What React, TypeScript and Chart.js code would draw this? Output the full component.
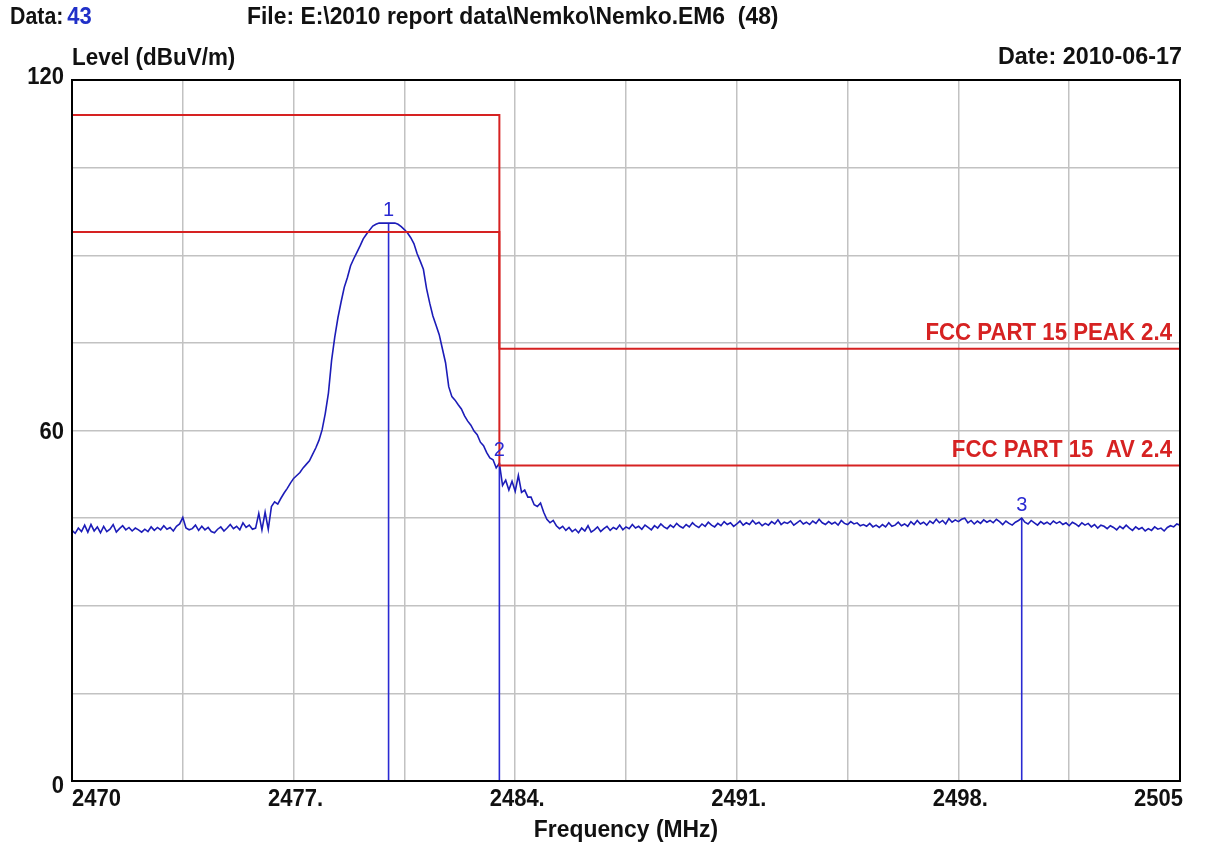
import { useEffect, useRef } from "react";
import { Chart, registerables } from "chart.js";

Chart.register(...registerables);

// Sweep settings of the trace
const FREQ_START = 2470;
const FREQ_STEP = 0.1;

// Measured level (dBuV/m), one value per 0.1 MHz from 2470.0 to 2505.0
const LEVELS = [
  // 2470.0
  42.9, 42.4, 43.3, 42.7, 43.8, 42.6, 43.9, 42.8, 43.5, 42.5,
  // 2471.0
  43.6, 42.7, 43.1, 43.9, 42.6, 43.2, 43.7, 43.0, 43.4, 42.8,
  // 2472.0
  43.3, 43.0, 42.6, 43.1, 42.7, 43.5, 42.9, 43.4, 43.0, 43.7,
  // 2473.0
  43.1, 43.4, 42.8, 43.6, 44.0, 45.1, 43.3, 43.0, 43.2, 43.8,
  // 2474.0
  42.9, 43.6, 43.0, 43.4, 42.7, 42.5, 43.1, 43.5, 42.8, 43.3,
  // 2475.0
  43.9, 43.2, 43.6, 43.0, 44.2, 43.4, 43.8, 43.1, 43.3, 45.8,
  // 2476.0
  43.0, 46.0, 43.1, 47.0, 47.8, 47.4, 48.4, 49.3, 50.1, 51.0,
  // 2477.0
  51.8, 52.3, 52.8, 53.6, 54.2, 54.8, 55.9, 57.0, 58.3, 60.1,
  // 2478.0
  62.9, 66.4, 72.0, 76.0, 79.3, 82.0, 84.5, 86.2, 88.2, 89.4,
  // 2479.0
  90.5, 91.6, 92.8, 93.6, 94.3, 95.0, 95.3, 95.5, 95.5, 95.5,
  // 2480.0
  95.5, 95.5, 95.5, 95.3, 94.9, 94.4, 93.8, 93.0, 92.0, 90.3,
  // 2481.0
  89.0, 87.6, 84.3, 81.8, 79.6, 78.0, 76.4, 74.0, 71.6, 67.5,
  // 2482.0
  65.8, 65.2, 64.4, 63.7, 62.5, 61.6, 60.9, 59.9, 59.3, 58.0,
  // 2483.0
  57.4, 56.2, 55.3, 55.0, 53.6, 54.4, 50.6, 51.5, 49.8, 51.3,
  // 2484.0
  49.6, 52.3, 49.4, 49.8, 48.6, 48.6, 47.3, 47.0, 47.6, 46.0,
  // 2485.0
  44.8, 44.2, 44.6, 43.7, 43.2, 43.6, 42.9, 43.4, 42.7, 43.1,
  // 2486.0
  42.5, 43.3, 42.8, 43.7, 42.6, 43.0, 43.5, 42.7, 43.2, 43.6,
  // 2487.0
  42.9, 43.4, 43.1, 43.8, 43.0, 43.5, 43.2, 43.9, 43.3, 43.6,
  // 2488.0
  43.1, 43.8, 43.4, 43.0, 43.7, 43.3, 44.0, 43.5, 43.2, 43.8,
  // 2489.0
  43.4, 44.1, 43.6, 43.3, 43.9, 43.5, 44.2, 43.7, 43.4, 44.0,
  // 2490.0
  43.6, 44.3, 43.8, 43.5, 44.1, 43.7, 44.4, 43.9, 44.2, 43.6,
  // 2491.0
  44.0, 44.5, 43.8, 44.2, 43.9, 44.6, 44.0, 44.3, 43.7, 44.1,
  // 2492.0
  43.8, 44.4, 44.0, 44.7, 43.9, 44.3, 44.1, 44.5, 43.8, 44.2,
  // 2493.0
  44.6, 44.0, 44.3, 43.9, 44.5, 44.1, 44.8, 44.2, 43.9, 44.4,
  // 2494.0
  44.0, 44.3, 43.8, 44.6, 44.1, 43.9, 44.4, 44.0, 44.2, 43.7,
  // 2495.0
  43.9, 43.6, 44.1, 43.5, 43.8, 43.4, 43.9, 43.5, 44.2, 43.6,
  // 2496.0
  43.8, 44.3, 43.7, 44.0, 43.6, 44.4, 43.9, 44.6, 44.0, 44.3,
  // 2497.0
  43.8, 44.5, 44.1, 44.8, 44.2, 44.6, 44.0, 44.9, 44.3, 44.7,
  // 2498.0
  44.4, 44.8, 45.0, 44.2, 44.6, 44.0, 44.5, 44.1, 44.7, 44.3,
  // 2499.0
  44.6, 44.2, 44.8, 44.4, 43.9, 44.5, 44.1, 43.8, 44.3, 44.6,
  // 2500.0
  45.0, 44.3, 44.0, 44.6, 44.2, 43.8, 44.4, 44.0, 44.3, 43.9,
  // 2501.0
  44.5, 44.1, 44.4, 43.9, 44.2, 43.7, 44.3, 44.0, 43.6, 44.2,
  // 2502.0
  43.8, 44.1, 43.5, 43.9, 43.3, 43.8, 43.6, 43.2, 43.7, 43.4,
  // 2503.0
  43.0, 43.6, 43.2, 43.8, 43.3, 42.9, 43.5, 43.1, 43.4, 42.8,
  // 2504.0
  43.2, 42.9, 43.5, 43.1, 43.3, 42.8, 43.4, 43.7, 43.5, 44.0,
  // 2505.0
  43.8,
];

// Axis range and labels
const X_MIN = 2470;
const X_MAX = 2505;
const X_GRID_STEP = 3.5;
const X_TICKS = [2470, 2477, 2484, 2491, 2498, 2505];
const X_TICK_LABELS = ["2470", "2477.", "2484.", "2491.", "2498.", "2505"];
const Y_MIN = 0;
const Y_MAX = 120;
const Y_GRID_STEP = 15;
const Y_TICKS = [0, 60, 120];
const Y_TICK_LABELS = ["0", "60", "120"];

// FCC Part 15 limit lines
const LIMIT_FREQ = [2470, 2483.5, 2483.5, 2505];
const PEAK_LIMIT = [114, 114, 74, 74];
const AV_LIMIT = [94, 94, 54, 54];
const PEAK_LIMIT_NAME = "FCC PART 15 PEAK 2.4";
const AV_LIMIT_NAME = "FCC PART 15  AV 2.4";

// Markers
const MARKER_IDS = ["1", "2", "3"];
const MARKER_FREQ = [2480.0, 2483.5, 2500.0];
const MARKER_LEVEL = [95.5, 54.4, 45.0];

// Header texts
const DATA_LABEL = "Data:";
const DATA_NUMBER = "43";
const FILE_LABEL = "File: E:\\2010 report data\\Nemko\\Nemko.EM6  (48)";
const Y_TITLE = "Level (dBuV/m)";
const DATE_LABEL = "Date: 2010-06-17";
const X_TITLE = "Frequency (MHz)";

const FONT = "'Liberation Sans', Arial, Helvetica, sans-serif";
const BOLD = `bold 22px ${FONT}`;
const TEXT_STRETCH = 1.1; // tall, slightly condensed look of the analyser font
const TRACE_BLUE = "#1c1cb8";
const MARK_BLUE = "#2a2ad2";
const LIMIT_RED = "#d62222";
const GRID_GRAY = "#c2c2c2";

// text drawn with a vertical stretch around its anchor point
function tallText(ctx: CanvasRenderingContext2D, text: string, x: number, y: number, widen = 1) {
  ctx.save();
  ctx.translate(x, y);
  ctx.scale(widen, TEXT_STRETCH);
  ctx.fillText(text, 0, 0);
  ctx.restore();
}

const textPlugin = {
  id: "emiText",
  afterDraw(chart: any) {
    const { ctx, chartArea } = chart;
    const xs = chart.scales.x;
    const ys = chart.scales.y;
    const { left, right, top, bottom } = chartArea;
    ctx.save();

    // frame around the plot area
    ctx.strokeStyle = "#000";
    ctx.lineWidth = 2;
    ctx.strokeRect(left, top, right - left, bottom - top);

    ctx.font = BOLD;
    ctx.fillStyle = "#111";
    ctx.textBaseline = "middle";

    // header
    ctx.textAlign = "left";
    tallText(ctx, DATA_LABEL, 10, 17, 0.97);
    const dw = ctx.measureText(DATA_LABEL).width * 0.97 + 4;
    ctx.fillStyle = "#2030c8";
    tallText(ctx, DATA_NUMBER, 10 + dw, 17);
    ctx.fillStyle = "#111";
    tallText(ctx, FILE_LABEL, 247, 17, 1.04);
    tallText(ctx, Y_TITLE, left, 58, 1.02);
    ctx.textAlign = "right";
    tallText(ctx, DATE_LABEL, right + 2, 57, 1.06);

    // y tick labels
    Y_TICKS.forEach((v, i) => {
      let y = ys.getPixelForValue(v);
      if (v === Y_MAX) y -= 3;
      else if (v === Y_MIN) y += 5;
      else y += 2;
      ctx.textAlign = "right";
      tallText(ctx, Y_TICK_LABELS[i], left - 8, y);
    });

    // x tick labels
    X_TICKS.forEach((v, i) => {
      const x = xs.getPixelForValue(v);
      if (v === X_MIN) {
        ctx.textAlign = "left";
        tallText(ctx, X_TICK_LABELS[i], x, bottom + 18);
      } else if (v === X_MAX) {
        ctx.textAlign = "right";
        tallText(ctx, X_TICK_LABELS[i], x + 3, bottom + 18);
      } else {
        ctx.textAlign = "center";
        tallText(ctx, X_TICK_LABELS[i], x + 2, bottom + 18);
      }
    });
    ctx.textAlign = "center";
    tallText(ctx, X_TITLE, (left + right) / 2, bottom + 49, 1.04);

    // limit names
    ctx.fillStyle = LIMIT_RED;
    ctx.textAlign = "right";
    tallText(ctx, PEAK_LIMIT_NAME, right - 8, ys.getPixelForValue(PEAK_LIMIT[3]) - 15, 1.01);
    tallText(ctx, AV_LIMIT_NAME, right - 8, ys.getPixelForValue(AV_LIMIT[3]) - 15, 1.01);

    // marker numbers
    ctx.font = `20px ${FONT}`;
    ctx.fillStyle = MARK_BLUE;
    ctx.textAlign = "center";
    ctx.textBaseline = "bottom";
    MARKER_IDS.forEach((id, i) => {
      const x = xs.getPixelForValue(MARKER_FREQ[i]);
      const y = ys.getPixelForValue(MARKER_LEVEL[i]);
      ctx.fillText(id, x, y - 3);
    });
    ctx.restore();
  },
};

export default function App() {
  const canvasRef = useRef<HTMLCanvasElement | null>(null);

  useEffect(() => {
    document.body.style.margin = "0";
    const canvas = canvasRef.current;
    if (!canvas) return;

    const trace = LEVELS.map((y, i) => ({
      x: Math.round((FREQ_START + i * FREQ_STEP) * 10) / 10,
      y,
    }));
    const limitData = (levels: number[]) =>
      LIMIT_FREQ.map((x, i) => ({ x, y: levels[i] }));

    const markerSets = MARKER_FREQ.map((f, i) => ({
      label: `Marker ${MARKER_IDS[i]}`,
      data: [
        { x: f, y: MARKER_LEVEL[i] },
        { x: f, y: Y_MIN },
      ],
      borderColor: MARK_BLUE,
      borderWidth: 1.6,
      pointRadius: 0,
      tension: 0,
    }));

    const chart = new Chart(canvas, {
      type: "line",
      data: {
        datasets: [
          {
            label: PEAK_LIMIT_NAME,
            data: limitData(PEAK_LIMIT),
            borderColor: LIMIT_RED,
            borderWidth: 2,
            pointRadius: 0,
            tension: 0,
          },
          {
            label: AV_LIMIT_NAME,
            data: limitData(AV_LIMIT),
            borderColor: LIMIT_RED,
            borderWidth: 2,
            pointRadius: 0,
            tension: 0,
          },
          {
            label: "Level",
            data: trace,
            borderColor: TRACE_BLUE,
            borderWidth: 1.6,
            pointRadius: 0,
            tension: 0,
          },
          ...markerSets,
        ],
      },
      options: {
        responsive: false,
        animation: false,
        devicePixelRatio: 1,
        layout: { padding: { left: 72, right: 28, top: 80, bottom: 63 } },
        plugins: {
          legend: { display: false },
          tooltip: { enabled: false },
          title: { display: false },
        },
        scales: {
          x: {
            type: "linear",
            min: X_MIN,
            max: X_MAX,
            ticks: { display: false, stepSize: X_GRID_STEP },
            grid: { color: GRID_GRAY, lineWidth: 1.5, drawTicks: false },
            border: { display: false },
          },
          y: {
            type: "linear",
            min: Y_MIN,
            max: Y_MAX,
            ticks: { display: false, stepSize: Y_GRID_STEP },
            grid: { color: GRID_GRAY, lineWidth: 1.5, drawTicks: false },
            border: { display: false },
          },
        },
      },
      plugins: [textPlugin],
    });

    return () => chart.destroy();
  }, []);

  return (
    <div style={{ position: "fixed", left: 0, top: 0, width: 1208, height: 844, background: "#fff" }}>
      <canvas ref={canvasRef} width={1208} height={844} style={{ display: "block" }} />
    </div>
  );
}
